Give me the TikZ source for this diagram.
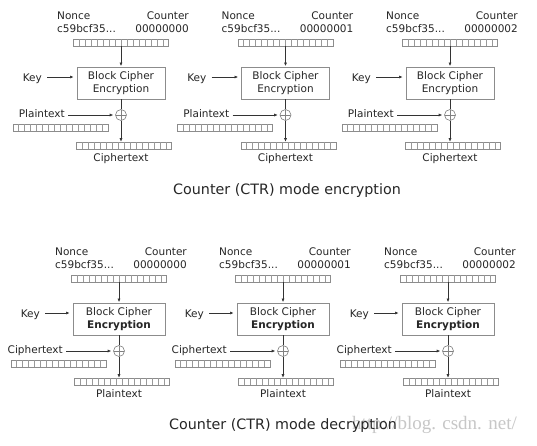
\documentclass[tikz,border=0pt]{standalone}
\usepackage{fontspec}
\setmainfont{DejaVu Sans}
\newfontfamily\wmfont{Liberation Serif}
\usetikzlibrary{calc,arrows.meta}
\tikzset{
 lbl/.style={font=\fontsize{10.5}{12.5}\selectfont, text=black!85, inner sep=0pt},
 blockbox/.style={draw=black!45, line width=0.8pt, minimum height=32pt, align=center, font=\fontsize{10.5}{12.5}\selectfont, text=black!85, inner sep=0pt},
 regbox/.style={draw=black!45, line width=0.6pt, minimum width=95pt, minimum height=7pt, inner sep=0pt},
 cellline/.style={draw=black!40, line width=0.5pt},
 flow/.style={draw=black!80, line width=0.6pt, -{Latex[length=3.5pt,width=3pt]}},
 plainline/.style={draw=black!80, line width=0.6pt},
 xorop/.style={circle, draw=black!50, line width=0.6pt, minimum size=11pt, inner sep=0pt,
   path picture={\draw[black!50,line width=0.6pt] (path picture bounding box.north) -- (path picture bounding box.south) (path picture bounding box.west) -- (path picture bounding box.east);}},
 titlelbl/.style={font=\fontsize{14.3}{16}\selectfont, text=black!85, inner sep=0pt},
}
\newcommand{\regcells}[1]{%
  \foreach \i in {1,...,15} {\draw[cellline] ($(#1.south west)!\i/16!(#1.south east)$) -- ($(#1.north west)!\i/16!(#1.north east)$);}}
% #1 id, #2 cx, #3 dy, #4 counter, #5 input label, #6 output label, #7 font of "Encryption", #8 block width
\newcommand{\ctrpanel}[8]{%
  \node[lbl, anchor=base west] (#1nl) at (#2-64, #3+19) {Nonce};
  \node[lbl, anchor=base west] (#1nv) at (#2-64, #3+32) {c59bcf35...};
  \node[lbl, anchor=base east] (#1cl) at (#2+68, #3+19) {Counter};
  \node[lbl, anchor=base east] (#1cv) at (#2+68, #3+32) {#4};
  \node[regbox] (#1ctr) at (#2, #3+42.5) {};
  \regcells{#1ctr}
  \node[blockbox, minimum width=#8pt] (#1blk) at (#2, #3+83) {Block Cipher\\#7Encryption};
  \draw[flow, shorten >=0.5pt] (#1ctr.south) -- (#1blk.north);
  \node[lbl, anchor=base east] (#1key) at (#2-79, #3+81) {Key};
  \draw[flow, shorten <=5pt, shorten >=3pt] (#1key.east |- #2, #3+77) -- (#1blk.west |- #2, #3+77);
  \node[xorop] (#1xor) at (#2, #3+115) {};
  \draw[plainline] (#1blk.south) -- (#1xor.north);
  \node[lbl, anchor=base east] (#1in) at (#2-56, #3+117) {#5};
  \draw[flow, shorten <=3pt, shorten >=2pt] (#1in.east |- #1xor.west) -- (#1xor.west);
  \node[regbox] (#1inr) at (#2-60.5, #3+127.5) {};
  \regcells{#1inr}
  \node[regbox] (#1out) at (#2+3, #3+145.5) {};
  \regcells{#1out}
  \draw[flow] (#1xor.south) -- (#1xor.south |- #1out.north);
  \node[lbl, anchor=base] (#1ol) at (#2, #3+161) {#6};
}
\begin{document}
\begin{tikzpicture}[x=1pt,y=-1pt]
\useasboundingbox[fill=white] (0,0) rectangle (537,445);
\node[anchor=base east, font=\wmfont\fontsize{19}{19}\selectfont, text=black!22, inner sep=0pt] (wm) at (517,429) {http://blog. csdn. net/};
\ctrpanel{ea}{121}{0}{00000000}{Plaintext}{Ciphertext}{}{88}
\ctrpanel{eb}{285.5}{0}{00000001}{Plaintext}{Ciphertext}{}{88}
\ctrpanel{ec}{450}{0}{00000002}{Plaintext}{Ciphertext}{}{88}
\node[titlelbl, anchor=base] (etitle) at (287,194) {Counter (CTR) mode encryption};
\ctrpanel{da}{119}{236}{00000000}{Ciphertext}{Plaintext}{\bfseries}{92}
\ctrpanel{db}{283}{236}{00000001}{Ciphertext}{Plaintext}{\bfseries}{92}
\ctrpanel{dc}{448}{236}{00000002}{Ciphertext}{Plaintext}{\bfseries}{92}
\node[titlelbl, anchor=base] (dtitle) at (283,429) {Counter (CTR) mode decryption};
\end{tikzpicture}
\end{document}
